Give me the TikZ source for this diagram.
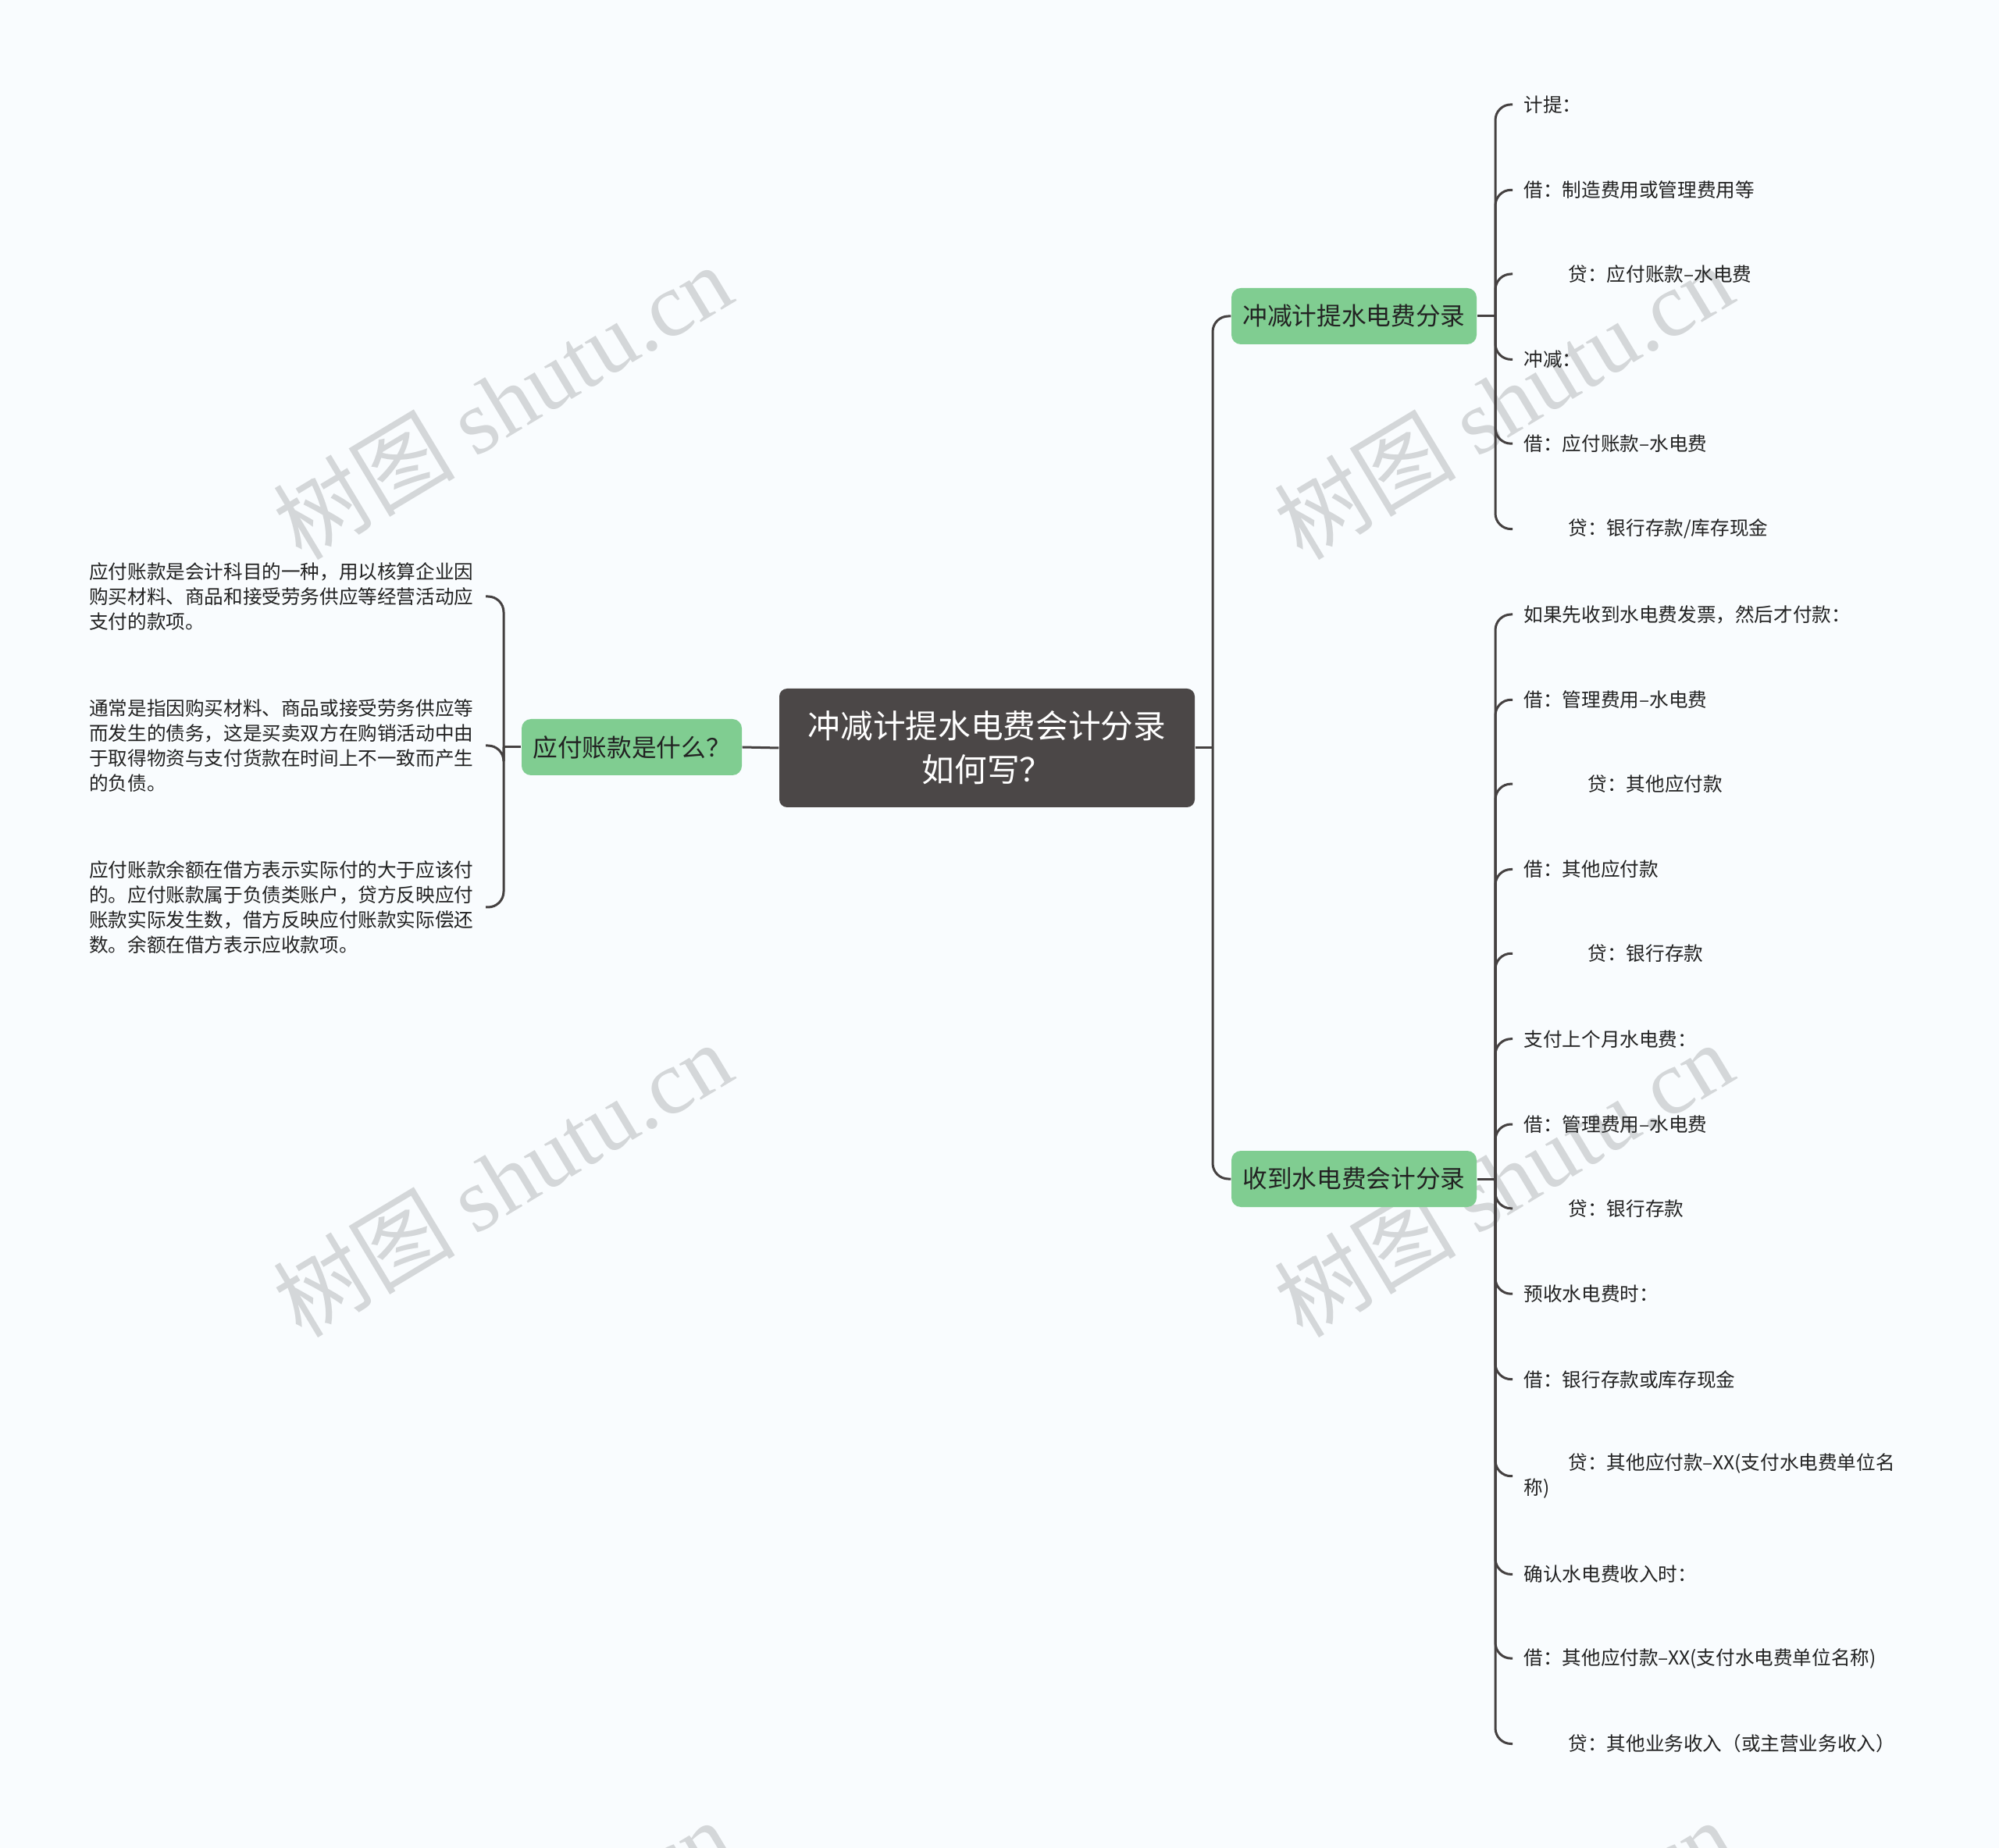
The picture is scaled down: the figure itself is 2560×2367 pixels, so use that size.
\documentclass[tikz,border=0pt]{standalone}
\usepackage{fontspec}
\setmainfont{Noto Sans CJK SC}
\newfontfamily\wmlatinfont{Liberation Serif}
\newfontfamily\wmcjkfont{Noto Sans CJK SC}
\definecolor{bgc}{HTML}{F9FCFE}
\definecolor{centc}{HTML}{4B4747}
\definecolor{greenc}{HTML}{80CD91}
\definecolor{linec}{HTML}{454141}
\definecolor{textc}{HTML}{222222}
\definecolor{wmc}{HTML}{D4D7D9}
\newcommand\myleaffont{\fontsize{7.38pt}{9.6pt}\selectfont}
\newcommand\mycentfont{\fontsize{12.5pt}{16.8pt}\selectfont}
\newcommand\mytopicfont{\fontsize{9.5pt}{11pt}\selectfont}
\tikzset{
  conn/.style={draw=linec, line width=0.9pt, rounded corners=6pt},
  leafR/.style={anchor=west, inner xsep=4.2pt, inner ysep=0pt, font=\myleaffont, align=left, text=textc},
  leafL/.style={anchor=east, inner xsep=4.5pt, inner ysep=0pt, font=\myleaffont, align=left, text=textc},
  central/.style={rounded corners=3pt, fill=centc, text=white, minimum width=159.6pt, minimum height=45.6pt, align=center, font=\mycentfont, inner sep=0pt},
  topic/.style={rounded corners=3.6pt, fill=greenc, minimum height=21.6pt, font=\mytopicfont, text=textc, inner sep=0pt},
  wm/.style={text=wmc, rotate=31, font=\fontsize{35pt}{38pt}\selectfont, inner sep=0pt}
}
\begin{document}
\begin{tikzpicture}[x=0.3pt, y=-0.3pt]
\useasboundingbox (0,0) rectangle (2560,2367);
\fill[bgc] (0,0) rectangle (2560,2367);
% watermark
\begin{scope}
\clip (0,0) rectangle (2560,2367);
\foreach \wx/\wy [count=\i] in {643/514, 1925/514, 643/1510, 1925/1510, 643/2506, 1925/2506}{
  \node[wm] (wm\i) at (\wx,\wy) {{\wmcjkfont 树图} {\wmlatinfont shutu.cn}};
}
\end{scope}
% nodes
\node[central] (c) at (1264,958) {冲减计提水电费会计分录\\如何写？};
\node[topic, minimum width=94.2pt] (n1) at (1734,405) {冲减计提水电费分录};
\node[topic, minimum width=94.2pt] (n2) at (1734,1510) {收到水电费会计分录};
\node[topic, minimum width=84.6pt] (L) at (809,957) {应付账款是什么？};
\coordinate (jR) at (1553,958);
\coordinate (j1) at (1915,405);
\coordinate (j2) at (1915,1510);
\coordinate (jL) at (645,957);
% right leaves of n1
\node[leafR] (r1a) at (1937,133.9) {计提：};
\node[leafR] (r1b) at (1937,243.3) {借：制造费用或管理费用等};
\node[leafR] (r1c) at (1937,351.0) {\hspace*{17.1pt}贷：应付账款–水电费};
\node[leafR] (r1d) at (1937,460.4) {冲减：};
\node[leafR] (r1e) at (1937,568.2) {借：应付账款–水电费};
\node[leafR] (r1f) at (1937,677.6) {\hspace*{17.1pt}贷：银行存款/库存现金};
% right leaves of n2
\node[leafR] (r2a) at (1937,787.0) {如果先收到水电费发票，然后才付款：};
\node[leafR] (r2b) at (1937,896.3) {借：管理费用–水电费};
\node[leafR] (r2c) at (1937,1004.1) {\hspace*{24.6pt}贷：其他应付款};
\node[leafR] (r2d) at (1937,1113.5) {借：其他应付款};
\node[leafR] (r2e) at (1937,1221.3) {\hspace*{24.6pt}贷：银行存款};
\node[leafR] (r2f) at (1937,1330.7) {支付上个月水电费：};
\node[leafR] (r2g) at (1937,1440.0) {借：管理费用–水电费};
\node[leafR] (r2h) at (1937,1547.8) {\hspace*{17.1pt}贷：银行存款};
\node[leafR] (r2i) at (1937,1657.2) {预收水电费时：};
\node[leafR] (r2j) at (1937,1766.6) {借：银行存款或库存现金};
\node[leafR] (r2k) at (1937,1890.7) {\hspace*{17.1pt}贷：其他应付款–XX(支付水电费单位名\\称)};
\node[leafR] (r2l) at (1937,2016.4) {确认水电费收入时：};
\node[leafR] (r2m) at (1937,2124.1) {借：其他应付款–XX(支付水电费单位名称)};
\node[leafR] (r2n) at (1937,2233.5) {\hspace*{17.1pt}贷：其他业务收入（或主营业务收入）};
% left leaves
\node[leafL] (t1) at (622,764) {应付账款是会计科目的一种，用以核算企业因\\购买材料、商品和接受劳务供应等经营活动应\\支付的款项。};
\node[leafL] (t2) at (622,955) {通常是指因购买材料、商品或接受劳务供应等\\而发生的债务，这是买卖双方在购销活动中由\\于取得物资与支付货款在时间上不一致而产生\\的负债。};
\node[leafL] (t3) at (622,1162) {应付账款余额在借方表示实际付的大于应该付\\的。应付账款属于负债类账户，贷方反映应付\\账款实际发生数，借方反映应付账款实际偿还\\数。余额在借方表示应收款项。};
% connectors
\draw[conn] (c.east) -- (jR);
\draw[conn] (jR) |- (n1.west);
\draw[conn] (jR) |- (n2.west);
\draw[conn] (c.west) -- (L.east);
\draw[conn] (n1.east) -- (j1);
\draw[conn] (n2.east) -- (j2);
\draw[conn] (L.west) -- (jL);
\foreach \k in {r1a,r1b,r1c,r1d,r1e,r1f}{ \draw[conn] (j1) |- (\k.west); }
\foreach \k in {r2a,r2b,r2c,r2d,r2e,r2f,r2g,r2h,r2i,r2j,r2k,r2l,r2m,r2n}{ \draw[conn] (j2) |- (\k.west); }
\foreach \k in {t1,t2,t3}{ \draw[conn] (jL) |- (\k.east); }
\end{tikzpicture}
\end{document}
